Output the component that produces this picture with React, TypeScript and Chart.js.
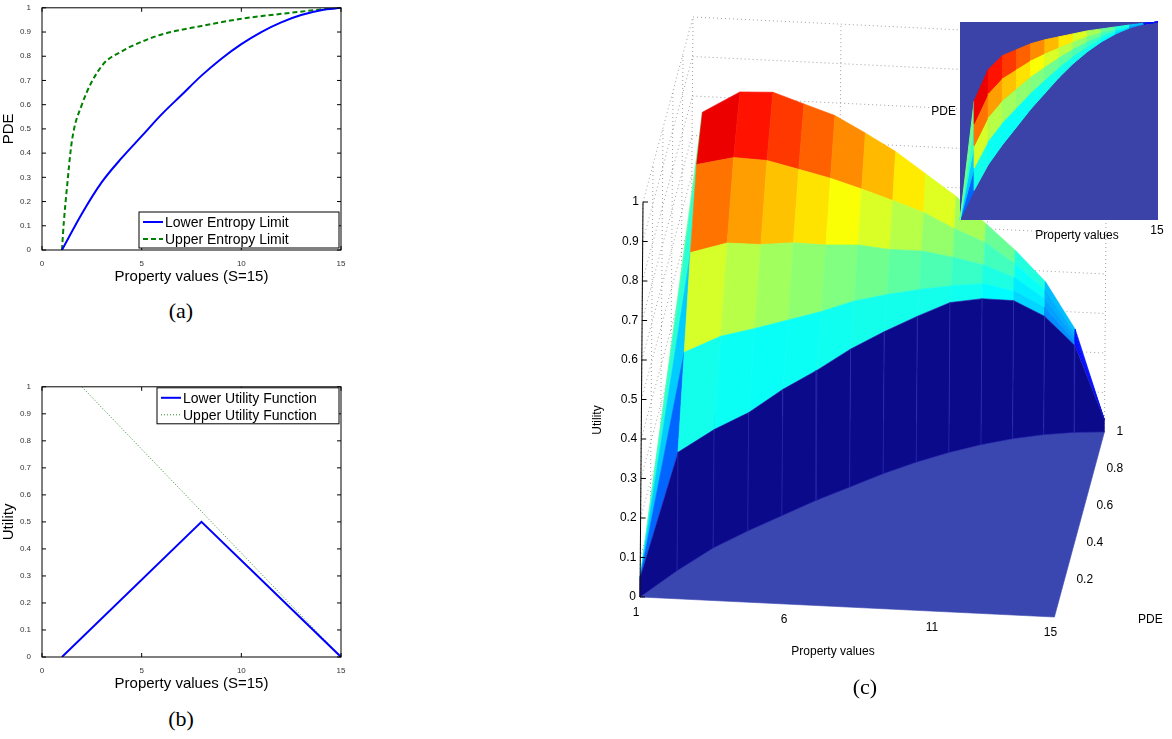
import React, { useEffect, useRef } from "react";
import { Chart, registerables } from "chart.js";
Chart.register(...registerables);

// ---- data ----
const lowerEntropyX = [1, 2, 3, 4, 5, 6, 7, 8, 9, 10, 11, 12, 13, 14, 15];
const lowerEntropyY = [0, 0.15, 0.28, 0.38, 0.47, 0.56, 0.64, 0.72, 0.79, 0.85, 0.9, 0.94, 0.97, 0.99, 1];
const upperEntropyX = [1, 1.1, 1.22, 1.5, 2, 3, 4, 5, 6, 8, 10, 12, 14, 15];
const upperEntropyY = [0, 0.12, 0.23, 0.45, 0.6, 0.76, 0.82, 0.86, 0.89, 0.925, 0.955, 0.975, 0.993, 1];
const lowerUtilityX = [1, 8, 15];
const lowerUtilityY = [0, 0.5, 0];
const upperUtilityX = [2, 15];
const upperUtilityY = [1, 0];

const propertyValues = [1, 2, 3, 4, 5, 6, 7, 8, 9, 10, 11, 12, 13, 14, 15];
const pdeLower = [0, 0.15, 0.28, 0.38, 0.47, 0.56, 0.64, 0.72, 0.79, 0.85, 0.9, 0.94, 0.97, 0.99, 1];
const pdeUpper = [0, 0.6, 0.76, 0.83, 0.86, 0.89, 0.91, 0.925, 0.94, 0.955, 0.965, 0.975, 0.985, 0.993, 1];
const bandFractions = [0, 0.25, 0.5, 0.75, 1];
const utilityGrid = [
  [0.05, 0.05, 0.05, 0.05, 0.05],
  [0.3, 0.5, 0.7, 0.87, 0.95],
  [0.3, 0.48, 0.66, 0.82, 0.93],
  [0.3, 0.46, 0.62, 0.78, 0.9],
  [0.32, 0.45, 0.6, 0.74, 0.86],
  [0.33, 0.44, 0.57, 0.7, 0.82],
  [0.35, 0.44, 0.55, 0.66, 0.77],
  [0.36, 0.43, 0.52, 0.62, 0.72],
  [0.37, 0.42, 0.5, 0.58, 0.66],
  [0.38, 0.41, 0.47, 0.53, 0.6],
  [0.37, 0.4, 0.44, 0.49, 0.53],
  [0.35, 0.37, 0.4, 0.43, 0.46],
  [0.3, 0.32, 0.34, 0.36, 0.38],
  [0.22, 0.23, 0.24, 0.25, 0.26],
  [0.03, 0.03, 0.03, 0.03, 0.03],
];
const utilityTicks = [0, 0.1, 0.2, 0.3, 0.4, 0.5, 0.6, 0.7, 0.8, 0.9, 1];
const propertyTicks = [1, 6, 11, 15];
const pdeTicks = [0.2, 0.4, 0.6, 0.8, 1];

const FONT = "'Liberation Sans', Arial, sans-serif";

function jet(v: number): string {
  const c = (x: number) => Math.max(0, Math.min(1, x));
  const r = c(1.5 - Math.abs(4 * v - 3));
  const g = c(1.5 - Math.abs(4 * v - 2));
  const b = c(1.5 - Math.abs(4 * v - 1));
  return `rgb(${Math.round(r * 255)},${Math.round(g * 255)},${Math.round(b * 255)})`;
}

const framePlugin = {
  id: "frame",
  afterDraw(chart: any) {
    const { ctx, chartArea: a } = chart;
    ctx.save();
    ctx.strokeStyle = "#000";
    ctx.lineWidth = 1;
    ctx.strokeRect(a.left, a.top, a.right - a.left, a.bottom - a.top);
    const xs = chart.scales.x, ys = chart.scales.y;
    ctx.beginPath();
    xs.ticks.forEach((t: any) => {
      const px = xs.getPixelForValue(t.value);
      ctx.moveTo(px, a.bottom); ctx.lineTo(px, a.bottom - 4);
      ctx.moveTo(px, a.top); ctx.lineTo(px, a.top + 4);
    });
    ys.ticks.forEach((t: any) => {
      const py = ys.getPixelForValue(t.value);
      ctx.moveTo(a.left, py); ctx.lineTo(a.left + 4, py);
      ctx.moveTo(a.right, py); ctx.lineTo(a.right - 4, py);
    });
    ctx.stroke();
    const lg = chart.options.plugins.boxLegend;
    if (lg) {
      const w = lg.w, h = 36;
      const x = a.right - w - 2;
      const y = lg.pos === "br" ? a.bottom - h - 2 : a.top + 1;
      ctx.fillStyle = "#fff";
      ctx.fillRect(x, y, w, h);
      ctx.strokeRect(x, y, w, h);
      chart.data.datasets.forEach((d: any, i: number) => {
        const yy = y + 10 + i * 17;
        ctx.strokeStyle = d.borderColor;
        ctx.lineWidth = d.borderWidth;
        ctx.setLineDash(d.borderDash || []);
        ctx.beginPath(); ctx.moveTo(x + 4, yy); ctx.lineTo(x + 24, yy); ctx.stroke();
        ctx.setLineDash([]);
        ctx.fillStyle = "#000";
        ctx.font = `14px ${FONT}`;
        ctx.textBaseline = "middle";
        ctx.fillText(d.label, x + 26, yy + 1);
      });
    }
    ctx.restore();
  },
};

function make2D(canvas: HTMLCanvasElement, datasets: any[], xTitle: string, yTitle: string, legend: any) {
  return new Chart(canvas, {
    type: "line",
    data: { datasets },
    plugins: [framePlugin],
    options: {
      animation: false,
      responsive: false,
      layout: { padding: { top: 2, right: 9, left: 0, bottom: 0 } },
      elements: { point: { radius: 0 } },
      plugins: { legend: { display: false }, tooltip: { enabled: false }, boxLegend: legend } as any,
      scales: {
        x: {
          type: "linear", min: 0, max: 15,
          ticks: { stepSize: 5, font: { size: 8, family: FONT }, color: "#333", padding: 1 },
          grid: { display: false },
          border: { display: false },
          title: { display: true, text: xTitle, font: { size: 15, family: FONT }, color: "#000", padding: 0 },
          afterFit: (s: any) => { s.height = 36; },
        },
        y: {
          type: "linear", min: 0, max: 1,
          ticks: { stepSize: 0.1, font: { size: 8, family: FONT }, color: "#333", padding: 3, callback: (v: any) => String(Math.round(v * 10) / 10) },
          grid: { display: false },
          border: { display: false },
          title: { display: true, text: yTitle, font: { size: 15, family: FONT }, color: "#000", padding: 0 },
          afterFit: (s: any) => { s.width = 42; },
        },
      },
    } as any,
  });
}

function proj(s: number, p: number, u: number) {
  return { x: 640 + (s - 1) * 29.6 + p * 50 + u * 3, y: 597 + (s - 1) * 1.43 - p * 185 - u * 395 };
}

function bandPde(i: number, t: number) {
  return pdeLower[i] + t * (pdeUpper[i] - pdeLower[i]);
}

function build3DDatasets() {
  const ds: any[] = [];
  const poly = (pts: any[], color: string, border = color) => {
    ds.push({ data: [...pts, pts[0]], fill: "shape", backgroundColor: color, borderColor: border, borderWidth: 0.6, pointRadius: 0, tension: 0 });
  };
  const n = propertyValues.length;
  poly([proj(1, 0, 0), proj(15, 0, 0), proj(15, 1, 0), proj(1, 1, 0)], "#3b47b0", "#3b47b0");
  for (let i = 0; i < n - 1; i++) {
    for (let k = bandFractions.length - 2; k >= 0; k--) {
      const s0 = propertyValues[i], s1 = propertyValues[i + 1];
      const t0 = bandFractions[k], t1 = bandFractions[k + 1];
      const u00 = utilityGrid[i][k], u01 = utilityGrid[i][k + 1], u10 = utilityGrid[i + 1][k], u11 = utilityGrid[i + 1][k + 1];
      const col = jet((u00 + u01 + u10 + u11) / 4);
      poly([proj(s0, bandPde(i, t0), u00), proj(s1, bandPde(i + 1, t0), u10), proj(s1, bandPde(i + 1, t1), u11), proj(s0, bandPde(i, t1), u01)], col);
    }
  }
  for (let i = 0; i < n - 1; i++) {
    const s0 = propertyValues[i], s1 = propertyValues[i + 1];
    const w0 = proj(s0, pdeLower[i], 0), w1 = proj(s1, pdeLower[i + 1], 0);
    const w2 = proj(s1, pdeLower[i + 1], utilityGrid[i + 1][0]), w3 = proj(s0, pdeLower[i], utilityGrid[i][0]);
    poly([w0, w1, w2, w3], "#0a0a8a", "#2a2ab0");
  }
  return ds.map((d, i) => ({ ...d, order: -i, showLine: true }));
}

const axes3DPlugin = {
  id: "axes3d",
  beforeDatasetsDraw(chart: any) {
    const { ctx } = chart;
    const X = (v: number) => chart.scales.x.getPixelForValue(v);
    const Y = (v: number) => chart.scales.y.getPixelForValue(v);
    const line = (a: any, b: any) => { ctx.beginPath(); ctx.moveTo(X(a.x), Y(a.y)); ctx.lineTo(X(b.x), Y(b.y)); ctx.stroke(); };
    ctx.save();
    ctx.strokeStyle = "#888";
    ctx.lineWidth = 0.8;
    ctx.setLineDash([1, 3]);
    for (let u = 0; u <= 1.001; u += 0.1) {
      line(proj(1, 1, u), proj(15, 1, u));
      line(proj(1, 0, u), proj(1, 1, u));
    }
    [1, 6, 11, 15].forEach((s) => line(proj(s, 1, 0), proj(s, 1, 1)));
    [0, 0.2, 0.4, 0.6, 0.8].forEach((p) => line(proj(1, p, 0), proj(1, p, 1)));
    ctx.restore();
  },
  afterDraw(chart: any) {
    const { ctx } = chart;
    const X = (v: number) => chart.scales.x.getPixelForValue(v);
    const Y = (v: number) => chart.scales.y.getPixelForValue(v);
    ctx.save();
    ctx.strokeStyle = "#000";
    ctx.fillStyle = "#000";
    ctx.lineWidth = 1;
    ctx.font = `12px ${FONT}`;
    const a0 = proj(1, 0, 0), a1 = proj(1, 0, 1);
    ctx.beginPath(); ctx.moveTo(X(a0.x), Y(a0.y)); ctx.lineTo(X(a1.x), Y(a1.y)); ctx.stroke();
    ctx.textAlign = "right"; ctx.textBaseline = "middle";
    utilityTicks.forEach((u) => {
      const p = proj(1, 0, u);
      ctx.beginPath(); ctx.moveTo(X(p.x), Y(p.y)); ctx.lineTo(X(p.x) + 5, Y(p.y)); ctx.stroke();
      ctx.fillText(String(u), X(p.x) - 4, Y(p.y));
    });
    ctx.save();
    ctx.translate(X(598), Y(420)); ctx.rotate(-Math.PI / 2);
    ctx.textAlign = "center"; ctx.fillText("Utility", 0, 0);
    ctx.restore();
    ctx.textAlign = "center"; ctx.textBaseline = "top";
    propertyTicks.forEach((s) => {
      const p = proj(s, 0, 0);
      ctx.fillText(String(s), X(p.x - 4), Y(p.y + 10));
    });
    ctx.fillText("Property values", X(833), Y(646));
    ctx.textAlign = "left"; ctx.textBaseline = "middle";
    pdeTicks.forEach((v) => {
      const p = proj(15, v, 0);
      ctx.fillText(String(v), X(p.x + 12), Y(p.y));
    });
    ctx.fillText("PDE", X(1138), Y(620));
    const L = 960, R = 1158, T = 22, B = 220;
    const ix = (s: number) => L + ((s - 1) / 14) * (R - L);
    const iy = (p: number) => B - p * (B - T);
    ctx.fillStyle = "#3b43a8";
    ctx.fillRect(X(L), Y(T), X(R) - X(L), Y(B) - Y(T));
    for (let i = 0; i < propertyValues.length - 1; i++) {
      for (let k = 0; k < bandFractions.length - 1; k++) {
        const s0 = propertyValues[i], s1 = propertyValues[i + 1];
        const t0 = bandFractions[k], t1 = bandFractions[k + 1];
        const u = (utilityGrid[i][k] + utilityGrid[i][k + 1] + utilityGrid[i + 1][k] + utilityGrid[i + 1][k + 1]) / 4;
        ctx.fillStyle = jet(u);
        ctx.strokeStyle = jet(u);
        ctx.beginPath();
        ctx.moveTo(X(ix(s0)), Y(iy(bandPde(i, t0))));
        ctx.lineTo(X(ix(s1)), Y(iy(bandPde(i + 1, t0))));
        ctx.lineTo(X(ix(s1)), Y(iy(bandPde(i + 1, t1))));
        ctx.lineTo(X(ix(s0)), Y(iy(bandPde(i, t1))));
        ctx.closePath(); ctx.fill(); ctx.stroke();
      }
    }
    ctx.fillStyle = "#000";
    ctx.textAlign = "right"; ctx.textBaseline = "middle";
    ctx.fillText("PDE", X(956), Y(112));
    ctx.textAlign = "center";
    ctx.fillText("Property values", X(1077), Y(236));
    ctx.fillText("15", X(1157), Y(231));
    ctx.restore();
  },
};

export default function App() {
  const aRef = useRef<HTMLCanvasElement>(null);
  const bRef = useRef<HTMLCanvasElement>(null);
  const cRef = useRef<HTMLCanvasElement>(null);
  useEffect(() => {
    const ca = make2D(aRef.current!, [
      { label: "Lower Entropy Limit", data: lowerEntropyX.map((x, i) => ({ x, y: lowerEntropyY[i] })), borderColor: "#0000ff", borderWidth: 2, cubicInterpolationMode: "monotone" },
      { label: "Upper Entropy Limit", data: upperEntropyX.map((x, i) => ({ x, y: upperEntropyY[i] })), borderColor: "#008000", borderWidth: 2, borderDash: [5, 3], cubicInterpolationMode: "monotone" },
    ], "Property values (S=15)", "PDE", { pos: "br", w: 200 });
    const cb = make2D(bRef.current!, [
      { label: "Lower Utility Function", data: lowerUtilityX.map((x, i) => ({ x, y: lowerUtilityY[i] })), borderColor: "#0000ff", borderWidth: 2 },
      { label: "Upper Utility Function", data: upperUtilityX.map((x, i) => ({ x, y: upperUtilityY[i] })), borderColor: "#2e8b2e", borderWidth: 1, borderDash: [1, 2] },
    ], "Property values (S=15)", "Utility", { pos: "tr", w: 182 });
    const cc = new Chart(cRef.current!, {
      type: "scatter",
      data: { datasets: build3DDatasets() },
      plugins: [axes3DPlugin],
      options: {
        animation: false,
        responsive: false,
        layout: { padding: 0 },
        plugins: { legend: { display: false }, tooltip: { enabled: false } },
        scales: {
          x: { type: "linear", min: 570, max: 1172, display: false },
          y: { type: "linear", min: 0, max: 739, reverse: true, display: false },
        },
      } as any,
    });
    return () => { ca.destroy(); cb.destroy(); cc.destroy(); };
  }, []);
  const cap: React.CSSProperties = { position: "absolute", fontFamily: "'Liberation Serif', 'Times New Roman', serif", fontSize: 22, width: 350, textAlign: "center", left: 6 };
  return (
    <div style={{ position: "absolute", left: 0, top: 0, width: 1172, height: 739, background: "#fff" }}>
      <canvas ref={aRef} width={350} height={286} style={{ position: "absolute", left: 0, top: 0, width: 350, height: 286 }} />
      <div style={{ ...cap, top: 298 }}>(a)</div>
      <canvas ref={bRef} width={350} height={314} style={{ position: "absolute", left: 0, top: 379, width: 350, height: 314 }} />
      <div style={{ ...cap, top: 706 }}>(b)</div>
      <canvas ref={cRef} width={602} height={739} style={{ position: "absolute", left: 570, top: 0, width: 602, height: 739 }} />
      <div style={{ ...cap, left: 690, top: 674, width: 350 }}>(c)</div>
    </div>
  );
}
